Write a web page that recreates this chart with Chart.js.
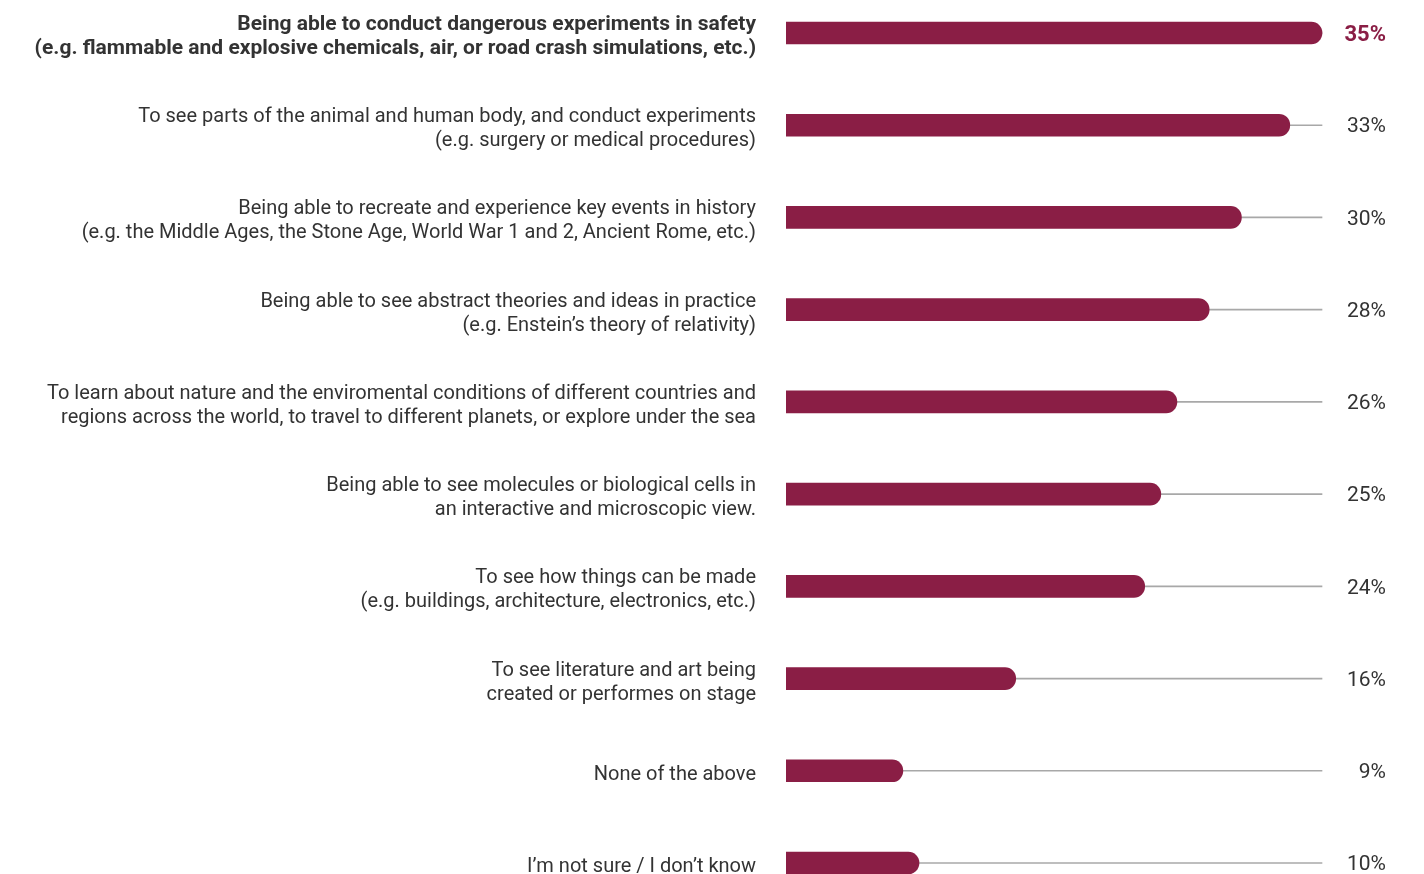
<!DOCTYPE html>
<html>
<head>
<meta charset="utf-8">
<script src="https://cdn.jsdelivr.net/npm/chart.js@4.4.1/dist/chart.umd.min.js"></script>
<style>
  html, body { margin: 0; padding: 0; background: #fff; overflow: hidden; }
  #wrap { position: relative; width: 1424px; height: 874px; }
</style>
</head>
<body>
<div id="wrap"><canvas id="barChart"></canvas></div>
<script>
var categories = [
    ["Being able to conduct dangerous experiments in safety", "(e.g. flammable and explosive chemicals, air, or road crash simulations, etc.)"],
    ["To see parts of the animal and human body, and conduct experiments", "(e.g. surgery or medical procedures)"],
    ["Being able to recreate and experience key events in history", "(e.g. the Middle Ages, the Stone Age, World War 1 and 2, Ancient Rome, etc.)"],
    ["Being able to see abstract theories and ideas in practice", "(e.g. Enstein\u2019s theory of relativity)"],
    ["To learn about nature and the enviromental conditions of different countries and", "regions across the world, to travel to different planets, or explore under the sea"],
    ["Being able to see molecules or biological cells in", "an interactive and microscopic view."],
    ["To see how things can be made", "(e.g. buildings, architecture, electronics, etc.)"],
    ["To see literature and art being", "created or performes on stage"],
    "None of the above",
    "I\u2019m not sure / I don\u2019t know"
];
var values = [35, 33, 30, 28, 26, 25, 24, 16, 9, 10];
var trackMax = 35;

var barColor = "#8a1e45";
var textColor = "#333333";
var fontFamily = "Roboto, 'Open Sans', sans-serif";

// percentage labels at the right end of each row
var valueLabels = {
    id: "valueLabels",
    afterDatasetsDraw: function(chart) {
        var ctx = chart.ctx;
        var meta = chart.getDatasetMeta(0);
        ctx.save();
        ctx.textAlign = "right";
        ctx.textBaseline = "middle";
        meta.data.forEach(function(bar, i) {
            if (i === 0) {
                ctx.font = "bold 22px " + fontFamily;
                ctx.fillStyle = barColor;
            } else {
                ctx.font = "21px " + fontFamily;
                ctx.fillStyle = textColor;
            }
            ctx.fillText(values[i] + "%", 1386, bar.y + 2);
        });
        ctx.restore();
    }
};

// bars may overflow top/bottom of the plot area, but not its left edge
var barClip = { left: 0, top: false, right: false, bottom: false };

var config = {
    type: "bar",
    data: {
        labels: categories,
        datasets: [{
            data: values,
            backgroundColor: barColor,
            barThickness: 22,
            borderSkipped: "start",
            borderRadius: { topRight: 11, bottomRight: 11 },
            clip: barClip,
            order: 0
        }, {
            // thin grey track behind each bar
            data: values.map(function() { return trackMax; }),
            backgroundColor: "#a8a8a8",
            barThickness: 1,
            clip: barClip,
            order: 1
        }]
    },
    options: {
        indexAxis: "y",
        responsive: true,
        maintainAspectRatio: false,
        animation: false,
        grouped: false,
        layout: {
            padding: { top: 33, bottom: 11, left: 0, right: 102 }
        },
        plugins: {
            legend: { display: false },
            tooltip: { enabled: false },
            title: { display: false }
        },
        scales: {
            x: {
                display: false,
                min: 1.75,
                max: trackMax
            },
            y: {
                offset: false,
                grid: { display: false, drawTicks: false },
                border: { display: false },
                ticks: {
                    padding: 30,
                    labelOffset: 4,
                    color: textColor,
                    font: function(c) {
                        return c.index === 0
                            ? { family: fontFamily, size: 21, weight: "bold", lineHeight: 1.15 }
                            : { family: fontFamily, size: 20, weight: "normal", lineHeight: 1.2 };
                    }
                },
                afterFit: function(scale) {
                    scale.width = 786;
                    scale.paddingTop = 0;
                    scale.paddingBottom = 0;
                }
            }
        }
    },
    plugins: [valueLabels]
};

var chart = new Chart(document.getElementById("barChart").getContext("2d"), config);
</script>
</body>
</html>
